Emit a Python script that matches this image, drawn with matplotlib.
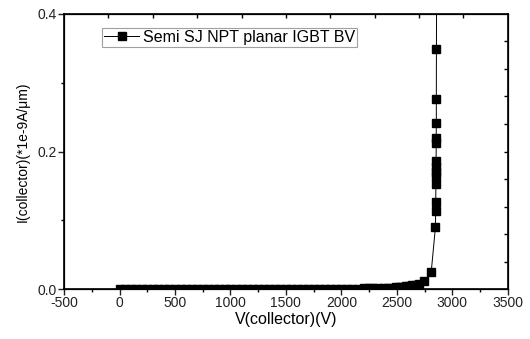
import numpy as np
import matplotlib
matplotlib.use('Agg')
import matplotlib.pyplot as plt

plt.rcParams['font.family'] = ['Liberation Sans', 'DejaVu Sans']
plt.rcParams['axes.unicode_minus'] = False

# collector voltage (V) and current (*1e-9 A/um)
v_low = [0, 50, 100, 150, 200, 250, 300, 350, 400, 450, 500, 550, 600, 650,
         700, 750, 800, 850, 900, 950, 1000, 1050, 1100, 1150, 1200, 1250,
         1300, 1350, 1400, 1450, 1500, 1550, 1600, 1650, 1700, 1750, 1800,
         1850, 1900, 1950, 2000, 2050, 2100, 2150, 2200, 2250, 2280]
i_low = [0.0, 0.0, 0.0, 0.0, 0.0, 0.0, 0.0, 0.0, 0.0, 0.0, 0.0, 0.0, 0.0, 0.0,
         0.0, 0.0, 0.0, 0.0, 0.0, 0.0, 0.0, 0.0, 0.0, 0.0, 0.0, 0.0,
         0.0, 0.0, 0.0001, 0.0001, 0.0001, 0.0001, 0.0002, 0.0002, 0.0002,
         0.0003, 0.0003, 0.0004, 0.0004, 0.0005, 0.0006, 0.0007, 0.0008,
         0.0009, 0.001, 0.0011, 0.0012]
v_high = [2330, 2380, 2420, 2460, 2490, 2520, 2550, 2580, 2610, 2640, 2670,
          2700, 2745, 2810, 2848, 2850, 2851, 2852, 2853, 2853, 2854, 2854,
          2855, 2855, 2856, 2856, 2857, 2862]
i_high = [0.0014, 0.0016, 0.0019, 0.0022, 0.0025, 0.0029, 0.0033, 0.0039,
          0.0046, 0.0055, 0.0066, 0.0082, 0.0115, 0.025, 0.090, 0.114, 0.127,
          0.153, 0.164, 0.170, 0.178, 0.186, 0.212, 0.220, 0.242, 0.277,
          0.349, 0.60]

volts = v_low + v_high
amps = i_low + i_high

top_ticks = [-100, 300, 700, 1100, 1500, 1900, 2300, 2700, 3100]
right_ticks = [0.04, 0.08, 0.12, 0.16, 0.20, 0.24, 0.28, 0.32, 0.36]

fig = plt.figure(figsize=(5.3, 3.39), dpi=100)
ax = fig.add_axes([0.121, 0.147, 0.837, 0.812])

ax.plot(volts, amps, color='black', lw=0.7, marker='s', ms=6,
        mec='black', mfc='black', label='Semi SJ NPT planar IGBT BV')

ax.set_xlim(-500, 3500)
ax.set_ylim(0, 0.4)
ax.set_xticks(np.arange(-500, 3501, 500))
ax.set_xticks(np.arange(-250, 3500, 500), minor=True)
ax.set_yticks([0.0, 0.2, 0.4])
ax.set_yticks([0.1, 0.3], minor=True)
ax.yaxis.set_major_formatter(matplotlib.ticker.FormatStrFormatter('%.1f'))
ax.tick_params(which='major', direction='out', length=4, width=1, labelsize=10,
               colors='#222222', pad=1)
ax.tick_params(which='minor', direction='out', length=2.5, width=1)
for s in ax.spines.values():
    s.set_linewidth(1.2)

# Origin-style opposite axes with their own tick marks
axt = ax.twiny()
axt.set_xlim(-500, 3500)
axt.set_xticks(top_ticks)
axt.tick_params(axis='x', direction='in', length=3, width=1, labeltop=False)
axr = ax.twinx()
axr.set_ylim(0, 0.4)
axr.set_yticks(right_ticks)
axr.tick_params(axis='y', direction='in', length=3, width=1, labelright=False)

ax.set_xlabel('V(collector)(V)', fontsize=11.5, labelpad=1)
ax.set_ylabel('I(collector)(*1e-9A/\u03bcm)', fontsize=10, labelpad=6)

leg = ax.legend(loc='upper left', bbox_to_anchor=(0.085, 0.95), fontsize=11.5,
                frameon=True, fancybox=False, edgecolor='#888888',
                handlelength=2.2, handletextpad=0.2, borderpad=0.15,
                borderaxespad=0)
leg.get_frame().set_linewidth(0.8)

fig.savefig('out.png', dpi=100)
